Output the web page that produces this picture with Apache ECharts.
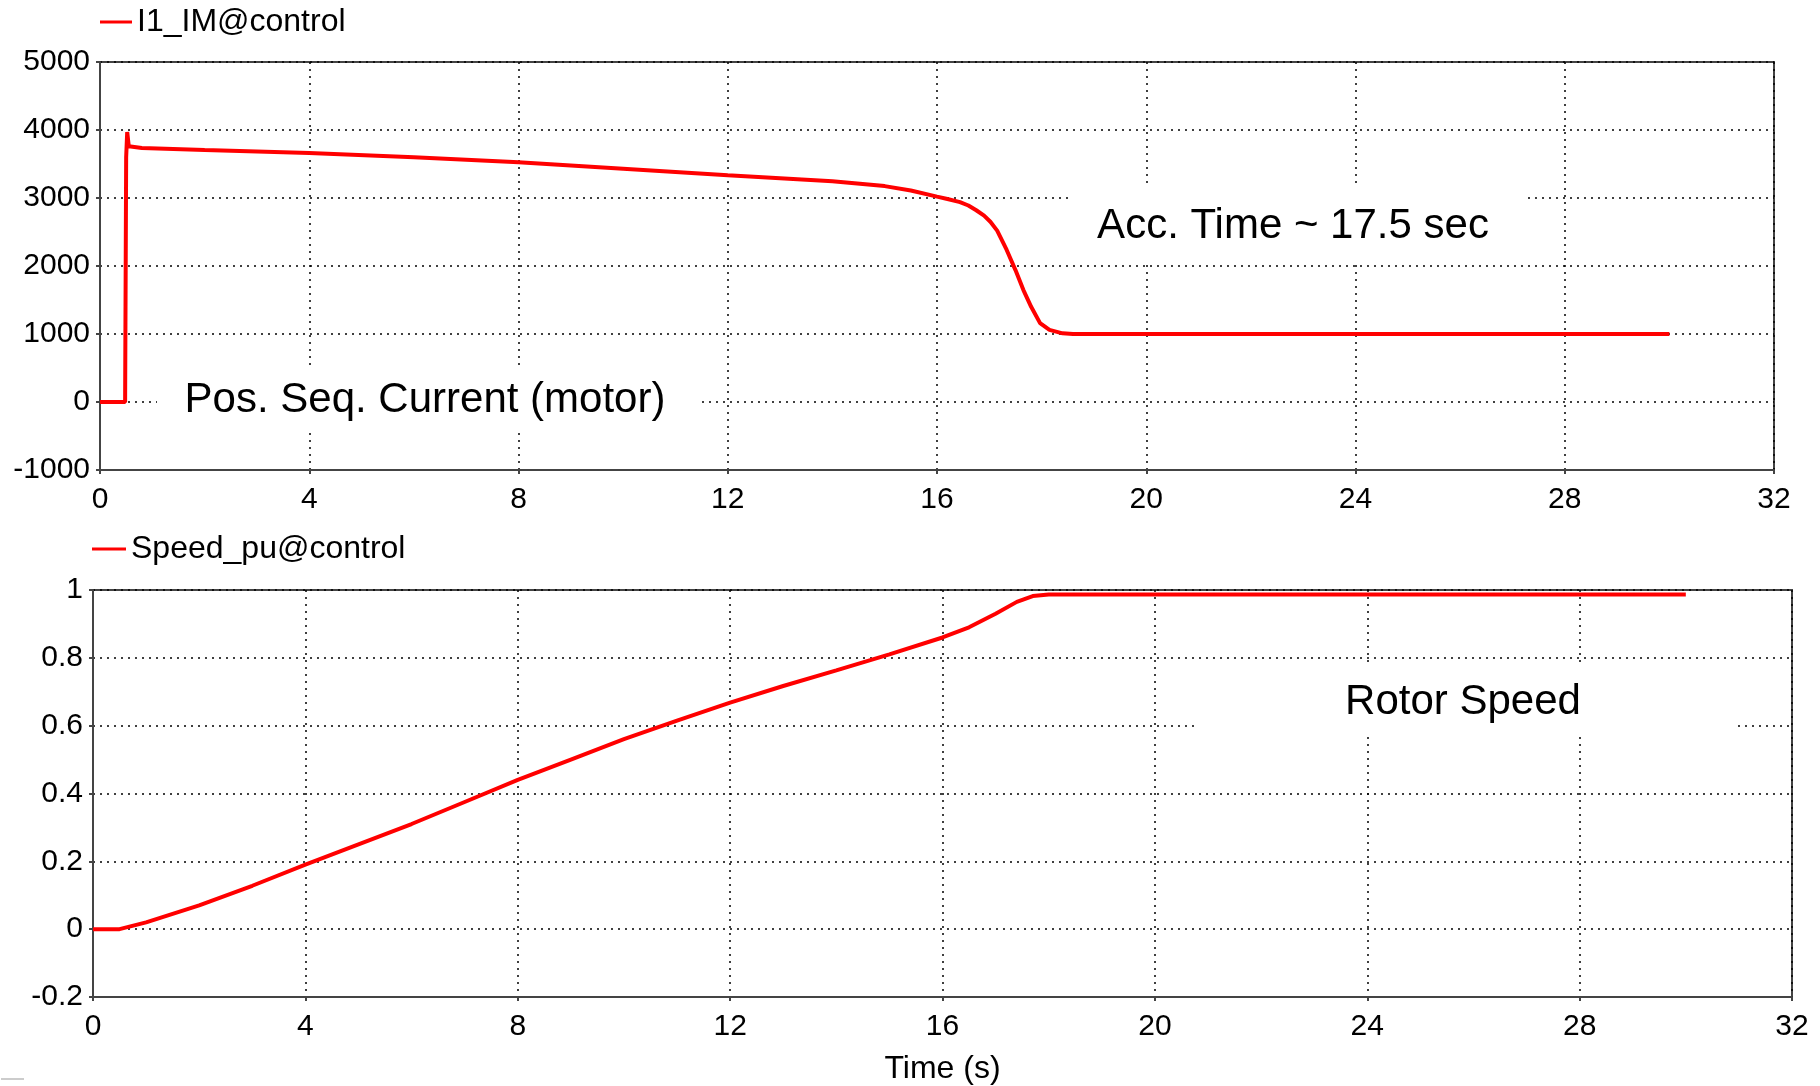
<!DOCTYPE html>
<html>
<head>
<meta charset="utf-8">
<title>Motor start</title>
<script src="https://cdn.jsdelivr.net/npm/echarts@6/dist/echarts.min.js"></script>
<style>
  html, body { margin: 0; padding: 0; background: #fff; }
  #chart { width: 1820px; height: 1086px; }
</style>
</head>
<body>
<div id="chart"></div>
<script>
// time ticks shared by both plots
const timeTicks = [0, 4, 8, 12, 16, 20, 24, 28, 32]

// positive sequence current of the motor, [time s, value]
const currentTime = [0, 0.48, 0.5, 0.52, 0.55, 0.8, 2, 4, 6, 8, 10, 12, 13, 14, 15, 15.5, 16, 16.2, 16.44, 16.6, 16.75, 16.9, 17.02, 17.15, 17.33, 17.5, 17.65, 17.8, 17.97, 18.15, 18.4, 18.6, 30]
const currentValue = [0, 0, 3600, 3970, 3760, 3735, 3705, 3660, 3600, 3525, 3430, 3335, 3290, 3245, 3175, 3110, 3020, 2985, 2940, 2890, 2820, 2740, 2650, 2520, 2240, 1940, 1650, 1400, 1160, 1060, 1010, 1000, 1000]

// rotor speed in pu
const speedTime = [0, 0.5, 1, 2, 3, 4, 5, 6, 7, 8, 9, 10, 11, 12, 13, 14, 15, 16, 16.5, 17, 17.4, 17.7, 18, 30]
const speedValue = [0, 0, 0.02, 0.07, 0.128, 0.19, 0.25, 0.31, 0.375, 0.44, 0.5, 0.56, 0.615, 0.668, 0.717, 0.763, 0.81, 0.86, 0.89, 0.93, 0.965, 0.982, 0.987, 0.987]

const font = 'Liberation Sans, Arial, sans-serif'
const gridLine = { show: true, lineStyle: { color: '#000', width: 1.5, type: [2, 5] } }
const axisLine = { show: true, onZero: false, lineStyle: { color: '#444', width: 2 } }
const axisTick = { show: true, length: 4, lineStyle: { color: '#444', width: 2 } }

const toPairs = (xs, ys) => xs.map((x, i) => [x, ys[i]])

const chart = echarts.init(document.getElementById('chart'))

chart.setOption({
  animation: false,
  backgroundColor: '#fff',
  textStyle: { fontFamily: font },
  legend: [
    {
      data: ['I1_IM@control'],
      left: 100,
      top: 6,
      padding: 0,
      icon: 'rect',
      itemWidth: 32,
      itemHeight: 3,
      textStyle: { fontSize: 32, color: '#000', fontFamily: font },
    },
    {
      data: ['Speed_pu@control'],
      left: 92,
      top: 533,
      padding: 0,
      icon: 'rect',
      itemWidth: 34,
      itemHeight: 3,
      textStyle: { fontSize: 32, color: '#000', fontFamily: font },
    },
  ],
  grid: [
    { left: 100, right: 46, top: 62, height: 408, show: true, borderColor: '#444', borderWidth: 2 },
    { left: 93, right: 28, top: 590, height: 408, show: true, borderColor: '#444', borderWidth: 2 },
  ],
  xAxis: [0, 1].map((i) => ({
    gridIndex: i,
    type: 'value',
    min: timeTicks[0],
    max: timeTicks[timeTicks.length - 1],
    interval: 4,
    axisLine: axisLine,
    axisTick: axisTick,
    splitLine: gridLine,
    axisLabel: { fontSize: 30, color: '#000', margin: 15, fontFamily: font },
    name: i === 1 ? 'Time (s)' : '',
    nameLocation: 'middle',
    nameGap: 56,
    nameTextStyle: { fontSize: 32, color: '#000', fontFamily: font },
  })),
  yAxis: [
    {
      gridIndex: 0,
      type: 'value',
      min: -1000,
      max: 5000,
      interval: 1000,
      axisLine: axisLine,
      axisTick: axisTick,
      splitLine: gridLine,
      axisLabel: { fontSize: 30, color: '#000', margin: 10, fontFamily: font, formatter: (v) => String(v) },
    },
    {
      gridIndex: 1,
      type: 'value',
      min: -0.2,
      max: 1,
      interval: 0.2,
      axisLine: axisLine,
      axisTick: axisTick,
      splitLine: gridLine,
      axisLabel: {
        fontSize: 30,
        color: '#000',
        margin: 10,
        fontFamily: font,
        formatter: (v) => String(Math.round(v * 10) / 10),
      },
    },
  ],
  series: [
    {
      name: 'I1_IM@control',
      type: 'line',
      xAxisIndex: 0,
      yAxisIndex: 0,
      showSymbol: false,
      color: '#ff0000',
      lineStyle: { width: 4, color: '#ff0000' },
      data: toPairs(currentTime, currentValue),
    },
    {
      name: 'Speed_pu@control',
      type: 'line',
      xAxisIndex: 1,
      yAxisIndex: 1,
      showSymbol: false,
      color: '#ff0000',
      lineStyle: { width: 4, color: '#ff0000' },
      data: toPairs(speedTime, speedValue),
    },
  ],
  graphic: [
    // white boxes behind the annotations hide the grid lines
    { type: 'rect', z: 10, shape: { x: 157, y: 366, width: 540, height: 66 }, style: { fill: '#fff' } },
    { type: 'rect', z: 10, shape: { x: 1072, y: 184, width: 453, height: 78 }, style: { fill: '#fff' } },
    { type: 'rect', z: 10, shape: { x: 1195, y: 665, width: 541, height: 68 }, style: { fill: '#fff' } },
    {
      type: 'text', z: 11,
      style: { text: 'Pos. Seq. Current (motor)', x: 425, y: 400, align: 'center', verticalAlign: 'middle', font: '42px ' + font, fill: '#000' },
    },
    {
      type: 'text', z: 11,
      style: { text: 'Acc. Time ~ 17.5 sec', x: 1293, y: 226, align: 'center', verticalAlign: 'middle', font: '42px ' + font, fill: '#000' },
    },
    {
      type: 'text', z: 11,
      style: { text: 'Rotor Speed', x: 1463, y: 702, align: 'center', verticalAlign: 'middle', font: '42px ' + font, fill: '#000' },
    },
    { type: 'line', z: 11, shape: { x1: 1, y1: 1079, x2: 24, y2: 1079 }, style: { stroke: '#ccc', lineWidth: 2 } },
  ],
})
</script>
</body>
</html>
